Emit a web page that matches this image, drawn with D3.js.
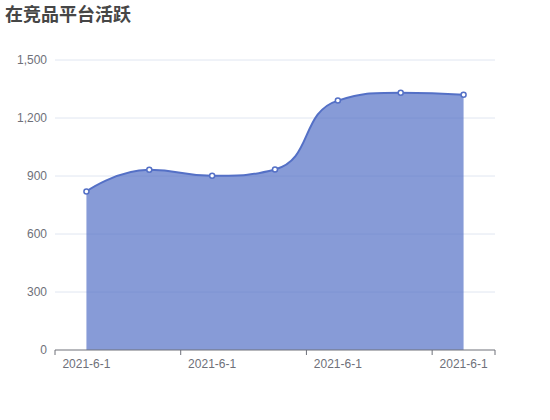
<!DOCTYPE html>
<html>
<head>
<meta charset="utf-8">
<script src="https://cdn.jsdelivr.net/npm/d3@7"></script>
<style>
  body { margin: 0; background: #fff; }
  text { font-family: "Liberation Sans", "Noto Sans CJK SC", sans-serif; }
  .title { font-family: "Noto Sans CJK SC", sans-serif; }
</style>
</head>
<body>
<div class="chart"></div>
<script>
const title = '在竞品平台活跃';
const categories = ['2021-6-1', '2021-6-1', '2021-6-1', '2021-6-1', '2021-6-1', '2021-6-1', '2021-6-1'];
const values = [820, 932, 901, 934, 1290, 1330, 1320];
const yTicks = [0, 300, 600, 900, 1200, 1500];

const margin = ({top: 60, right: 55, bottom: 70, left: 55});
const W = 550, H = 420;
const width = W - margin.left - margin.right;
const height = H - margin.top - margin.bottom;

const svg = d3.select('.chart')
    .append('svg')
    .attr('width', W)
    .attr('height', H);

svg.append('text')
    .attr('class', 'title')
    .attr('x', 5)
    .attr('y', 21)
    .attr('fill', '#464646')
    .attr('font-size', 18)
    .attr('font-weight', 'bold')
    .text(title);

const g = svg.append('g')
    .attr('transform', `translate(${margin.left}, ${margin.top})`);

const xScale = d3.scaleBand()
    .domain(d3.range(categories.length))
    .range([0, width]);

const yScale = d3.scaleLinear()
    .domain([0, 1500])
    .range([height, 0]);

// grid lines
g.selectAll('.grid')
    .data(yTicks.filter(d => d > 0))
    .enter()
    .append('line')
    .attr('x1', 0)
    .attr('x2', width)
    .attr('y1', d => yScale(d))
    .attr('y2', d => yScale(d))
    .attr('stroke', '#E0E6F1');

// echarts-like smooth line (smooth = 0.5)
function smoothPath(pts, smooth) {
    const p = d3.path();
    let cpx0, cpy0, prevX, prevY;
    pts.forEach((pt, i) => {
        const x = pt[0], y = pt[1];
        if (i === 0) {
            p.moveTo(x, y);
            cpx0 = x; cpy0 = y;
        } else {
            let cpx1, cpy1, nx0, ny0;
            if (i === pts.length - 1) {
                cpx1 = x; cpy1 = y;
            } else {
                const nextX = pts[i + 1][0], nextY = pts[i + 1][1];
                let vx = nextX - prevX, vy = nextY - prevY;
                const lenPrev = Math.hypot(x - prevX, y - prevY);
                const lenNext = Math.hypot(nextX - x, nextY - y);
                const ratio = lenNext / (lenNext + lenPrev);
                nx0 = x + vx * smooth * ratio;
                ny0 = y + vy * smooth * ratio;
                nx0 = Math.max(Math.min(nx0, Math.max(nextX, x)), Math.min(nextX, x));
                ny0 = Math.max(Math.min(ny0, Math.max(nextY, y)), Math.min(nextY, y));
                vx = nx0 - x; vy = ny0 - y;
                cpx1 = x - vx * lenPrev / lenNext;
                cpy1 = y - vy * lenPrev / lenNext;
                cpx1 = Math.max(Math.min(cpx1, Math.max(prevX, x)), Math.min(prevX, x));
                cpy1 = Math.max(Math.min(cpy1, Math.max(prevY, y)), Math.min(prevY, y));
                vx = x - cpx1; vy = y - cpy1;
                nx0 = x + vx * lenNext / lenPrev;
                ny0 = y + vy * lenNext / lenPrev;
            }
            p.bezierCurveTo(cpx0, cpy0, cpx1, cpy1, x, y);
            cpx0 = nx0; cpy0 = ny0;
        }
        prevX = x; prevY = y;
    });
    return p.toString();
}

const pts = values.map((v, i) => [xScale(i) + xScale.bandwidth() / 2, yScale(v)]);
const linePath = smoothPath(pts, 0.5);
const first = pts[0], last = pts[pts.length - 1];

g.append('path')
    .attr('d', linePath + `L${last[0]},${yScale(0)}L${first[0]},${yScale(0)}Z`)
    .attr('fill', '#5470c6')
    .attr('fill-opacity', 0.7);

g.append('path')
    .attr('d', linePath)
    .attr('fill', 'none')
    .attr('stroke', '#5470c6')
    .attr('stroke-width', 2);

g.selectAll('circle')
    .data(pts)
    .enter()
    .append('circle')
    .attr('cx', d => d[0])
    .attr('cy', d => d[1])
    .attr('r', 2.5)
    .attr('fill', '#fff')
    .attr('stroke', '#5470c6')
    .attr('stroke-width', 1.5);

// y axis labels
g.selectAll('.ylab')
    .data(yTicks)
    .enter()
    .append('text')
    .attr('x', -8)
    .attr('y', d => yScale(d))
    .attr('dy', '0.35em')
    .attr('text-anchor', 'end')
    .attr('fill', '#6E7079')
    .attr('font-size', 12)
    .text(d => d3.format(',')(d));

// x axis
const xAxis = g.append('g')
    .attr('transform', `translate(0, ${height})`);

xAxis.append('line')
    .attr('x1', 0)
    .attr('x2', width)
    .attr('stroke', '#6E7079');

const tickIdx = d3.range(0, categories.length, 2);
xAxis.selectAll('.tick')
    .data(tickIdx.map(i => xScale(i)).concat([width]))
    .enter()
    .append('line')
    .attr('x1', d => d)
    .attr('x2', d => d)
    .attr('y1', 0)
    .attr('y2', 5)
    .attr('stroke', '#6E7079');

xAxis.selectAll('.xlab')
    .data(tickIdx)
    .enter()
    .append('text')
    .attr('x', i => xScale(i) + xScale.bandwidth() / 2)
    .attr('y', 14)
    .attr('dy', '0.35em')
    .attr('text-anchor', 'middle')
    .attr('fill', '#6E7079')
    .attr('font-size', 12)
    .text(i => categories[i]);
</script>
</body>
</html>
